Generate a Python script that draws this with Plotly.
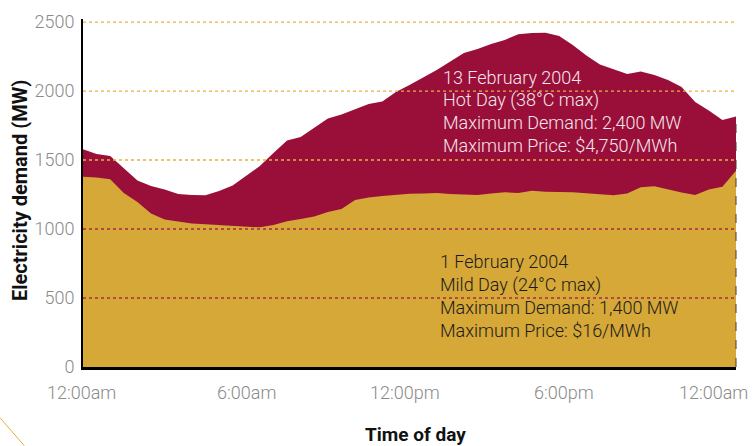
import plotly.graph_objects as go

# Half-hourly time points (hours from midnight)
hours = [i * 0.5 for i in range(49)]

# 13 February 2004 - Hot day demand (MW)
hot_demand = [1578, 1543, 1529, 1442, 1351, 1312, 1286, 1254, 1246, 1244,
              1275, 1315, 1384, 1457, 1551, 1641, 1667, 1732, 1801, 1830,
              1866, 1906, 1924, 1993, 2043, 2098, 2152, 2214, 2275, 2304,
              2341, 2370, 2411, 2420, 2422, 2399, 2333, 2257, 2192, 2157,
              2123, 2141, 2116, 2080, 2029, 1920, 1859, 1790, 1815]

# 1 February 2004 - Mild day demand (MW)
mild_demand = [1379, 1373, 1360, 1261, 1196, 1112, 1069, 1056, 1040, 1034,
               1029, 1025, 1022, 1012, 1029, 1056, 1072, 1091, 1123, 1145,
               1210, 1228, 1239, 1246, 1256, 1257, 1261, 1254, 1249, 1246,
               1257, 1266, 1261, 1277, 1270, 1269, 1267, 1259, 1250, 1244,
               1257, 1302, 1310, 1286, 1264, 1246, 1286, 1307, 1422]

x_tick_vals = [0, 6, 12, 18, 24]
x_tick_text = ["12:00am", "6:00am", "12:00pm", "6:00pm", "12:00am"]
y_tick_vals = [0, 500, 1000, 1500, 2000, 2500]
y_tick_text = ["0", "500", "1000", "1500", "2000", "2500"]

hot_label = ["13 February 2004", "Hot Day (38°C max)",
             "Maximum Demand: 2,400 MW", "Maximum Price: $4,750/MWh"]
mild_label = ["1 February 2004", "Mild Day (24°C max)",
              "Maximum Demand: 1,400 MW", "Maximum Price: $16/MWh"]

MAROON = "#990F3A"
GOLD = "#D5A838"
FONT = "Roboto, Liberation Sans, Arial, sans-serif"

fig = go.Figure()
fig.add_trace(go.Scatter(x=hours, y=hot_demand, mode="lines", fill="tozeroy",
                         fillcolor=MAROON, line=dict(width=0, color=MAROON),
                         hoverinfo="skip", showlegend=False))
fig.add_trace(go.Scatter(x=hours, y=mild_demand, mode="lines", fill="tozeroy",
                         fillcolor=GOLD, line=dict(width=0, color=GOLD),
                         hoverinfo="skip", showlegend=False))

shapes = []
for v in y_tick_vals[1:]:
    col = "#E3B33F" if v >= 1500 else "#A82A45"
    shapes.append(dict(type="line", xref="paper", x0=0, x1=1, yref="y", y0=v, y1=v,
                       line=dict(color=col, width=1.3, dash="dot"), layer="above"))
# right dashed border
shapes.append(dict(type="line", xref="paper", x0=1, x1=1, yref="paper", y0=0, y1=0.72,
                   line=dict(color="#5a3525", width=1, dash="dash"), layer="above"))
# decorative diagonal line
shapes.append(dict(type="line", xref="paper", yref="paper", x0=-0.127, y0=-0.146,
                   x1=-0.090, y1=-0.226, line=dict(color="#E0B040", width=1)))

annotations = []
shifts = [-2, 0, -5, -9, 0]
for i, (v, t) in enumerate(zip(x_tick_vals, x_tick_text)):
    last = i == len(x_tick_vals) - 1
    annotations.append(dict(x=v, xref="x", y=0, yref="paper", text=t, showarrow=False,
                            xanchor="right" if last else "center", yanchor="top",
                            xshift=14 if last else shifts[i], yshift=-13,
                            font=dict(family=FONT, size=18, color="#8a8a8a", weight=300)))
annotations.append(dict(x=0.5, xref="paper", y=0, yref="paper", text="<b>Time of day</b>",
                        showarrow=False, xanchor="center", yanchor="middle", yshift=-67,
                        xshift=6, font=dict(family=FONT, size=19, color="#111111")))
annotations.append(dict(x=-0.0965, xref="paper", y=0.5, yref="paper",
                        text="<b>Electricity demand (MW)</b>", textangle=-90,
                        showarrow=False, xanchor="center", yanchor="middle", yshift=3,
                        font=dict(family=FONT, size=20, color="#111111")))
for i, line in enumerate(hot_label):
    annotations.append(dict(x=13.16, xref="x", y=2101, yref="y", text=line,
                            showarrow=False, xanchor="left", yanchor="middle",
                            yshift=-22.7 * i,
                            font=dict(family=FONT, size=18, color="#F5E6EB", weight=300)))
for i, line in enumerate(mild_label):
    annotations.append(dict(x=13.05, xref="x", y=761, yref="y", text=line,
                            showarrow=False, xanchor="left", yanchor="middle",
                            yshift=-22.7 * i,
                            font=dict(family=FONT, size=18, color="#1e1a1a", weight=300)))

fig.update_layout(
    width=752, height=446,
    margin=dict(l=83, r=16, t=19, b=79),
    paper_bgcolor="white", plot_bgcolor="white",
    shapes=shapes, annotations=annotations,
    xaxis=dict(range=[0, 24], showgrid=False, zeroline=False, showticklabels=False,
               showline=True, linecolor="black", linewidth=3, ticks=""),
    yaxis=dict(range=[0, 2522], tickvals=y_tick_vals, ticktext=y_tick_text,
               showgrid=False, zeroline=False, showline=True, linecolor="black",
               linewidth=2, ticks="outside", ticklen=3, tickcolor="rgba(0,0,0,0)",
               tickfont=dict(family=FONT, size=18, color="#8a8a8a", weight=300)),
)

fig.write_html("out.html", config={"displayModeBar": False},
               post_script="document.body.style.margin='0';")
